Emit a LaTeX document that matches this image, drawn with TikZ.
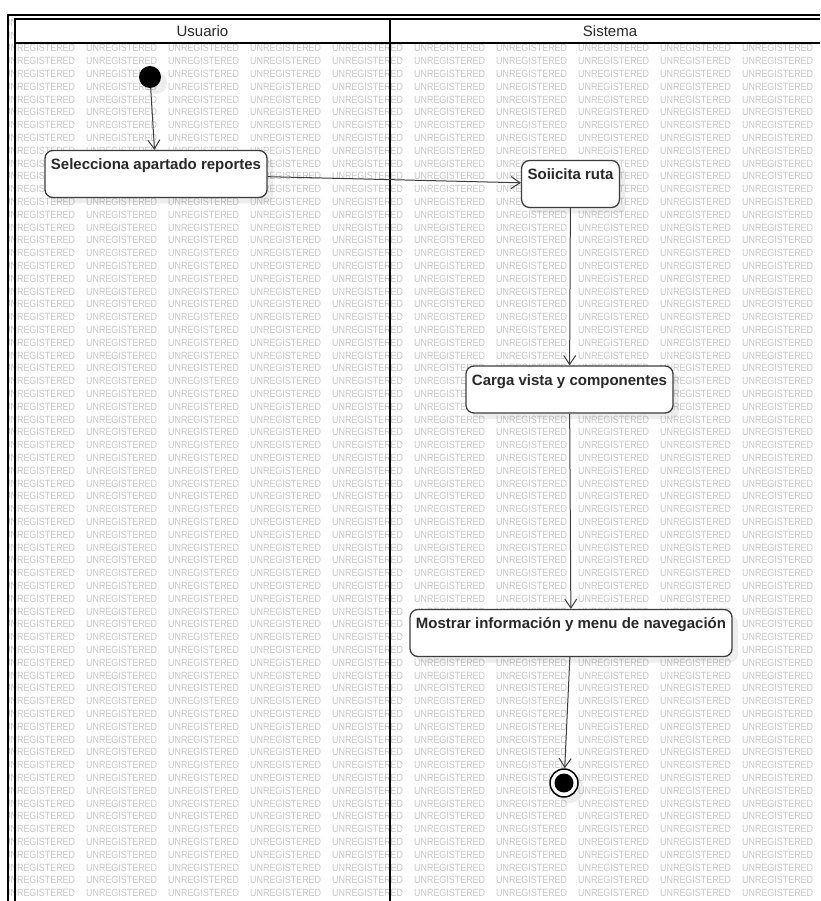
\documentclass[tikz,border=0pt]{standalone}
\usepackage{fontspec}
\setmainfont{Liberation Sans}
\usetikzlibrary{arrows.meta,shadows}
\definecolor{wmgray}{RGB}{198,198,198}
\definecolor{ink}{RGB}{40,40,40}
\definecolor{edge}{RGB}{60,60,60}

\begin{document}
\begin{tikzpicture}[x=1pt,y=-1pt,
  lane/.style={line width=2.3pt, draw=black},
  soft shadow/.style={general shadow={fill=black, opacity=0.07, shadow xshift=6pt, shadow yshift=-6pt}},
  action/.style={draw=edge, line width=1.3pt, fill=white, rounded corners=8pt,
     font=\fontsize{15}{18}\selectfont\bfseries, text=ink,
     text height=15pt, text depth=24pt, inner xsep=6pt, inner ysep=4pt, soft shadow},
  flow/.style={draw=edge, line width=1pt, -{Straight Barb[length=9pt,width=12pt,line width=1pt]}},
  wm/.style={text=wmgray, font=\fontsize{10.5}{11}\selectfont, inner sep=0pt, anchor=west},
  lanetitle/.style={font=\fontsize{15}{18}\selectfont, text=ink, inner sep=0pt}
]
\useasboundingbox (0,0) rectangle (820,901);
\fill[white] (0,0) rectangle (820,901);

% evaluation-copy stamp tiled behind the swimlanes
\begin{scope}
  \clip (8,15) rectangle (820,901);
  \foreach \r in {-3,...,66} {
    \foreach \c in {0,...,9} {
      \node[wm] (wm-\r-\c) at ({4+82*\c}, {48.3+12.8*\r}) {\scalebox{0.85}[1]{UNREGISTERED}};
    }
  }
\end{scope}

% lane headers
\fill[white] (15,19) rectangle (820,43);
\node[lanetitle] (usuario) at (202.5,31) {Usuario};
\node[lanetitle] (sistema) at (610,31) {Sistema};

% swimlane frame
\draw[lane] (8,901) -- (8,15) -- (820,15);
\draw[lane] (15,901) -- (15,19) -- (820,19);
\draw[lane] (15,43) -- (820,43);
\draw[lane] (390,19) -- (390,901);

% initial node
\node[circle, fill=black, minimum size=22pt, inner sep=0pt, soft shadow] (start) at (150,77) {};

% actions
\node[action] (a1) at (156,174) {Selecciona apartado reportes};
\node[action] (a2) at (570.5,184) {Soiicita ruta};
\node[action] (a3) at (569.5,389.5) {Carga vista y componentes};
\node[action] (a4) at (571,633) {Mostrar información y menu de navegación};

% final node
\node[circle, draw=black, line width=1.5pt, fill=white, minimum size=28pt, inner sep=0pt, soft shadow] (end) at (564,783) {};
\node[circle, fill=black, minimum size=19pt, inner sep=0pt] (endcore) at (end.center) {};

% control flow
\draw[flow] (start) -- (a1);
\draw[flow] (a1) -- (a2);
\draw[flow] (a2) -- (a3);
\draw[flow] (a3) -- (a4);
\draw[flow] (a4) -- (end);
\end{tikzpicture}
\end{document}
